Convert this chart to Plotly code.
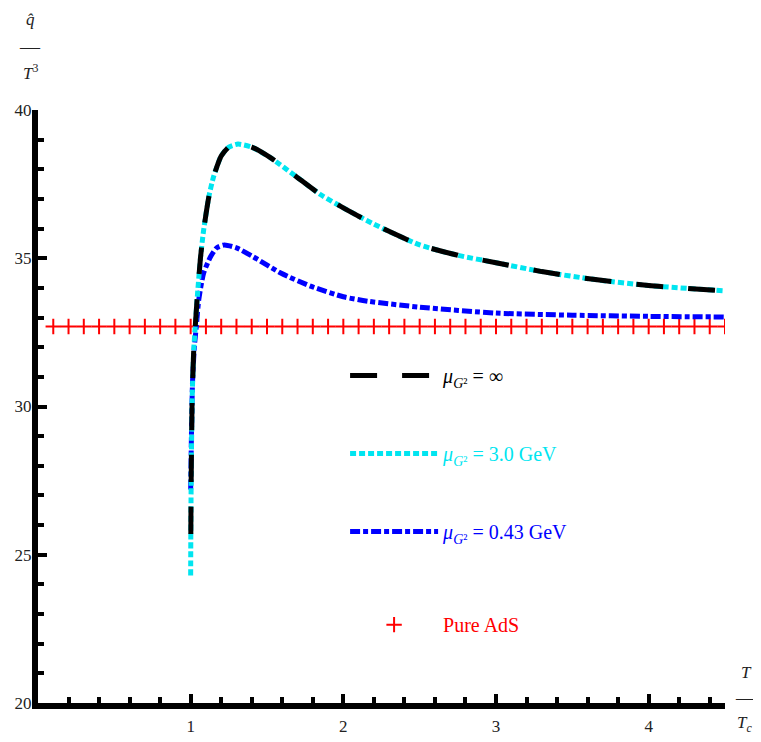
import plotly.graph_objects as go

# ---- data ----
t_inf = [1.001, 1.003, 1.006, 1.010, 1.020, 1.030, 1.042, 1.064, 1.085, 1.12, 1.15, 1.20,
         1.25, 1.31, 1.40, 1.52, 1.68, 1.85, 2.0, 2.2, 2.5, 2.75, 3.0, 3.3, 3.65, 4.0, 4.5]
q_inf = [25.7, 27.3, 28.8, 30.3, 31.9, 32.7, 33.6, 35.0, 35.95, 37.1, 37.75, 38.45,
         38.75, 38.85, 38.75, 38.4, 37.8, 37.15, 36.7, 36.15, 35.45, 35.1, 34.85, 34.55, 34.28, 34.08, 33.9]

t_30 = [1.0, 1.001, 1.003, 1.006, 1.010, 1.020, 1.030, 1.042, 1.064, 1.085, 1.12, 1.15, 1.20,
        1.25, 1.31, 1.40, 1.52, 1.68, 1.85, 2.0, 2.2, 2.5, 2.75, 3.0, 3.3, 3.65, 4.0, 4.5]
q_30 = [24.3, 25.7, 27.3, 28.8, 30.3, 31.9, 32.7, 33.6, 35.0, 35.95, 37.1, 37.75, 38.45,
        38.75, 38.85, 38.75, 38.4, 37.8, 37.15, 36.7, 36.15, 35.45, 35.1, 34.85, 34.55, 34.28, 34.08, 33.9]

t_043 = [1.0, 1.005, 1.012, 1.024, 1.037, 1.053, 1.085, 1.13, 1.17, 1.22, 1.30, 1.41,
         1.59, 1.79, 2.0, 2.16, 2.5, 3.0, 3.5, 4.0, 4.5]
q_043 = [27.2, 29.0, 30.8, 32.0, 32.7, 33.6, 34.5, 35.05, 35.35, 35.45, 35.35, 35.05,
         34.5, 34.05, 33.7, 33.55, 33.35, 33.15, 33.08, 33.04, 33.02]

t_ads = [0.1, 0.2, 0.3, 0.4, 0.5, 0.6, 0.7, 0.8, 0.9, 1.0, 1.1, 1.2, 1.3, 1.4, 1.5,
         1.6, 1.7, 1.8, 1.9, 2.0, 2.1, 2.2, 2.3, 2.4, 2.5, 2.6, 2.7, 2.8, 2.9, 3.0,
         3.1, 3.2, 3.3, 3.4, 3.5, 3.6, 3.7, 3.8, 3.9, 4.0, 4.1, 4.2, 4.3, 4.4, 4.5]
q_ads = [32.7, 32.7, 32.7, 32.7, 32.7, 32.7, 32.7, 32.7, 32.7, 32.7, 32.7, 32.7, 32.7, 32.7, 32.7,
         32.7, 32.7, 32.7, 32.7, 32.7, 32.7, 32.7, 32.7, 32.7, 32.7, 32.7, 32.7, 32.7, 32.7, 32.7,
         32.7, 32.7, 32.7, 32.7, 32.7, 32.7, 32.7, 32.7, 32.7, 32.7, 32.7, 32.7, 32.7, 32.7, 32.7]

x_ticks = [1, 2, 3, 4]
y_ticks = [20, 25, 30, 35, 40]

name_inf = '<span style="color:black"><i>μ</i><sub><i>G</i>²</sub> = ∞</span>'
name_30 = '<span style="color:#00e5f0"><i>μ</i><sub><i>G</i>²</sub> = 3.0 GeV</span>'
name_043 = '<span style="color:#0000ff"><i>μ</i><sub><i>G</i>²</sub> = 0.43 GeV</span>'
name_ads = '<span style="color:#ff0000">Pure AdS</span>'

SERIF = "Liberation Serif"

fig = go.Figure()
fig.add_trace(go.Scatter(x=t_ads, y=q_ads, mode="markers", name=name_ads, legend="legend2",
                         marker=dict(symbol="cross-thin", size=11, line=dict(color="#ff0000", width=2))))
fig.add_trace(go.Scatter(x=t_043, y=q_043, mode="lines", name=name_043, legendrank=3,
                         legendgroup="c",
                         line=dict(color="#0000ff", width=5, dash="10px,3px,5px,3px",
                                   shape="spline", smoothing=0.6)))
fig.add_trace(go.Scatter(x=t_30, y=q_30, mode="lines", name=name_30, legendrank=2,
                         legendgroup="b",
                         line=dict(color="#00e5f0", width=5, dash="6px,3px",
                                   shape="spline", smoothing=0.6)))
fig.add_trace(go.Scatter(x=t_inf, y=q_inf, mode="lines", name=name_inf, legendrank=1,
                         legendgroup="a",
                         line=dict(color="black", width=5, dash="27px,25px",
                                   shape="spline", smoothing=0.6)))

axis_common = dict(showline=True, linewidth=6, linecolor="black", mirror=False,
                   ticks="inside", ticklen=9, tickwidth=4, tickcolor="black",
                   showgrid=False, zeroline=False, automargin=False,
                   tickfont=dict(family=SERIF, size=17, color="#222"))

fig.update_xaxes(range=[0, 4.5], tickvals=x_ticks, ticklabelstandoff=3,
                 minor=dict(ticks="inside", ticklen=6, tickwidth=4, tickcolor="black",
                            dtick=0.2, tick0=0, showgrid=False),
                 **axis_common)
fig.update_yaxes(range=[20, 40], tickvals=y_ticks, ticklabelstandoff=-3,
                 minor=dict(ticks="inside", ticklen=6, tickwidth=4, tickcolor="black",
                            dtick=1, tick0=20, showgrid=False),
                 **axis_common)

ann_font = dict(family=SERIF, size=17, color="#222")
bar_font = dict(family=SERIF, size=20, color="#222")


def label(text, x, y, font):
    return dict(text=text, xref="paper", yref="paper", x=x, y=y, xanchor="center",
                yanchor="middle", showarrow=False, font=font)


fig.update_layout(
    width=761, height=742,
    margin=dict(l=30, r=44, t=102, b=47),
    font=dict(family=SERIF, size=17, color="#222"),
    paper_bgcolor="white", plot_bgcolor="white",
    showlegend=True,
    legend=dict(x=0.447, y=0.585, xanchor="left", yanchor="top",
                bgcolor="rgba(0,0,0,0)", font=dict(family=SERIF, size=20),
                tracegroupgap=49, itemwidth=88),
    legend2=dict(x=0.447, y=0.165, xanchor="left", yanchor="top",
                 bgcolor="rgba(0,0,0,0)", font=dict(family=SERIF, size=20),
                 itemwidth=88),
    annotations=[
        label("<i>q̂</i>", -0.0116, 1.152, ann_font),
        label("—", -0.0116, 1.106, bar_font),
        label("<i>T</i><sup>3</sup>", -0.0116, 1.064, ann_font),
        label("<i>T</i>", 1.031, 0.052, ann_font),
        label("—", 1.031, 0.0084, bar_font),
        label("<i>T</i><sub><i>c</i></sub>", 1.029, -0.035, ann_font),
    ],
)

fig.write_html("out.html")
